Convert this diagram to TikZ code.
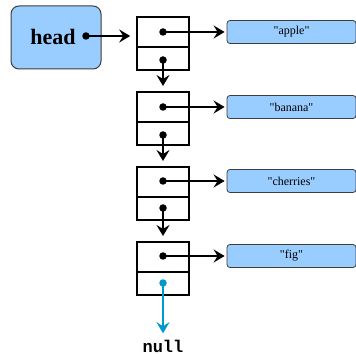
\documentclass[tikz,border=0pt]{standalone}
\usepackage{fontspec}
\setmainfont{Liberation Serif}
\setmonofont{Liberation Mono}
\newfontfamily\strfont{Liberation Serif}
\usetikzlibrary{arrows.meta}
\definecolor{boxblue}{RGB}{153,204,255}
\definecolor{nullcyan}{RGB}{0,153,204}
\definecolor{edgegray}{RGB}{60,60,60}
\tikzset{
  cell/.style={draw=black, line width=1.6pt, minimum width=52pt, inner sep=0pt, anchor=north},
  strbox/.style={draw=edgegray, fill=boxblue, line width=0.8pt, rounded corners=3pt, minimum width=129pt, minimum height=23pt, inner sep=0pt, font=\strfont\fontsize{12}{14}\selectfont},
  headbox/.style={draw=edgegray, fill=boxblue, line width=1pt, rounded corners=8pt, minimum width=90pt, minimum height=63pt, inner sep=0pt},
  ptr/.style={line width=2.5pt, -{Stealth[length=11pt,width=13pt,inset=4pt]}},
  dotc/.style={circle, fill=black, inner sep=0pt, minimum size=7.5pt},
}
\begin{document}
\begin{tikzpicture}[x=1pt,y=-1pt]
\useasboundingbox (0,0) rectangle (356,355);
% head
\node[headbox] (head) at (56,37.5) {};
\node[font=\fontsize{22}{24}\selectfont\bfseries] (htext) at (53,37) {head};
\node[dotc] (hd) at (86,36) {};
% list nodes
\foreach \i/\t in {1/16,2/91,3/166,4/241}{
  \node[cell, minimum height=30pt] (n\i t) at (163,\t) {};
  \node[cell, minimum height=23pt] (n\i b) at (163,\t+30) {};
}
\node[dotc] (d1) at (163,32) {};
\node[dotc] (d2) at (163,107) {};
\node[dotc] (d3) at (163,181) {};
\node[dotc] (d4) at (163,256) {};
\node[dotc] (e1) at (163,60) {};
\node[dotc] (e2) at (163,135) {};
\node[dotc] (e3) at (163,208) {};
\node[dotc, fill=nullcyan] (e4) at (163,283) {};
% strings
\node[strbox] (s1) at (291.5,32) {"apple"};
\node[strbox] (s2) at (291.5,107) {"banana"};
\node[strbox] (s3) at (291.5,181) {"cherries"};
\node[strbox] (s4) at (291.5,256) {"fig"};
\node[font=\fontsize{17}{20}\selectfont\ttfamily\bfseries] (null) at (163,346) {null};
% connectors
\draw[ptr, shorten >=6pt] (hd.center) -- (hd.center -| n1t.west);
\draw[ptr, shorten >=2pt] (d1.center) -- (s1.west);
\draw[ptr, shorten >=2pt] (d2.center) -- (s2.west);
\draw[ptr, shorten >=2pt] (d3.center) -- (s3.west);
\draw[ptr, shorten >=2pt] (d4.center) -- (s4.west);
\draw[ptr, shorten >=5pt] (e1.center) -- (n2t.north);
\draw[ptr, shorten >=5pt] (e2.center) -- (n3t.north);
\draw[ptr, shorten >=5pt] (e3.center) -- (n4t.north);
\draw[ptr, draw=nullcyan, fill=nullcyan, shorten >=3pt] (e4.center) -- (null.north);
\end{tikzpicture}
\end{document}
